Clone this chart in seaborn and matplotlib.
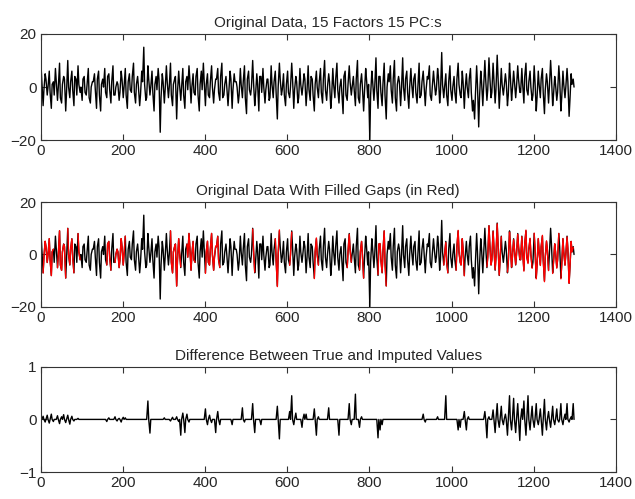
import numpy as np
import pandas as pd
import matplotlib
matplotlib.use('Agg')
import matplotlib.pyplot as plt
import seaborn as sns

# sample indices: main samples every 5th, plus in-between samples
x_main = np.arange(1, 1300, 5)
x_mid = np.arange(3, 1300, 5)

# original data values at the main samples
orig_main = [
    8, -7, 5, -3, 6, -8, 2, 7, -5, 9, -6, 4, -9, 10, -4, 6, -7, 3, 8, -2,
    -5, 4, -3, 7, -6, 2, 5, -8, 6, -9, 3, 7, -4, 5, -6, 8, -3, 2, -5, 6,
    -4, 7, -8, 5, -2, 9, -6, 4, -7, 6, 15, -5, 8, -3, 6, -9, 4, 7, -17, 5,
    -6, 8, -4, 9, -7, 3, -12, 6, -5, 7, -8, 4, 8, -6, 5, -3, 7, -9, 6, 9,
    -7, 5, -4, 8, -6, 3, 7, -5, 9, -3, 4, -7, 6, -8, 5, 2, -6, 7, -4, 8,
    -10, 6, -3, 10, -7, 5, -9, 4, 7, -6, 3, -5, 8, -4, 6, -12, 9, -3, 5, -7,
    6, -4, 9, -8, 4, -6, 7, -3, 5, -7, 8, -5, 3, -9, 6, -4, 7, -6, 10, -5,
    5, -8, 7, -4, 9, -6, 3, -10, 6, -5, 8, -3, 4, -7, 10, -6, 5, -9, 7, -4,
    -20, 6, -5, 11, -8, 4, -7, 9, -12, 5, 8, -6, 10, -9, 4, -7, 11, -5, 6, -8,
    7, -4, 5, -6, 9, -3, 6, -7, 4, 8, -5, 6, -3, 7, -6, 13, -4, 5, -7, 8,
    -5, 4, -6, 9, -3, 6, -8, 5, -4, 7, -9, -12, 8, -15, 6, -7, 10, -5, 11, -4,
    9, -6, 12, -8, 7, -3, 5, -7, 9, -5, 6, -4, 8, -2, 7, -6, 9, -3, 6, -5,
    8, -9, 6, -4, 7, -10, 5, -6, 10, -7, 4, -5, 8, -9, 6, -4, 7, -11, 5, 3,
]

# original data values at the in-between samples (the dense core of the trace)
orig_mid = [
    2, -1, 3, 0, -2, 1, -3, 2, 0, -4, 1, 3, -2, 0, 2, -1, 4, -3, 1, 0,
    3, -2, 1, -4, 0, 2, -1, 3, -3, 1, 0, -2, 4, -1, 2, -3, 0, 1, -2, 3,
    0, -3, 2, -1, 4, -2, 1, 0, -3, 2, 1, -4, 3, 0, -2, 1, -1, 3, -4, 2,
    -1, 2, 0, -3, 1, 4, -2, 1, 0, -3, 2, -1, 3, 0, -2, 4, -3, 1, -1, 2,
    1, -3, 2, 0, -1, 3, -2, 4, -4, 1, 0, -2, 3, -1, 2, 0, -3, 1, 2, -4,
    3, -1, 0, 2, -3, 1, 4, -2, 0, -1, 3, -4, 1, 2, -2, 0, 3, -1, -3, 1,
    -2, 0, 3, -1, 2, -4, 1, 0, 3, -2, -1, 4, -3, 1, 0, 2, -2, 3, -1, 0,
    2, -4, 1, 3, -1, 0, -2, 4, -3, 1, 2, 0, -1, 3, -4, 1, 0, -2, 3, 1,
    -3, 2, 0, -1, 4, -2, 1, -3, 0, 2, -1, 3, -4, 1, 2, -1, 0, 3, -2, 0,
    1, 3, -2, 0, -4, 2, 1, -1, 3, -3, 0, 2, -1, 4, -2, 1, 0, -3, 2, -1,
    0, -2, 3, 1, -4, 2, -1, 0, 3, -2, -5, -3, 1, -4, 2, 0, 3, -1, 4, -2,
    3, -1, 4, -2, 1, 0, 2, -3, 4, -1, 2, 0, 3, -2, 1, 4, -1, 2, 0, -3,
    2, -4, 1, 3, -2, -1, 2, 0, 4, -3, 1, -2, 3, -4, 1, 0, 2, -5, 1, 0,
]

# gaps that were filled (start / end sample)
gap_start = [6, 41, 66, 91, 161, 181, 316, 356, 401, 516, 571, 606, 666, 746,
             776, 821, 981, 1011, 1086, 1136, 1201, 1246, 1266]
gap_end = [31, 61, 81, 96, 171, 206, 341, 376, 436, 521, 581, 611, 676, 756,
           786, 841, 991, 1031, 1121, 1196, 1236, 1261, 1296]

# difference true - imputed, only the non-zero samples
diff_x = [6, 11, 16, 21, 26, 31, 41, 46, 51, 56, 61, 66, 71, 76, 81, 91,
          161, 166, 181, 186, 191, 196, 201, 206, 261, 266,
          301, 316, 321, 331, 336, 341, 346, 351, 356, 361,
          401, 406, 411, 416, 426, 431, 436, 466, 491, 496, 516, 521, 536,
          576, 581, 606, 611, 616, 621, 636, 641, 646,
          666, 671, 676, 701, 726, 751, 756, 766, 776, 781, 821, 826, 831,
          931, 936, 966, 986, 1016, 1021, 1031, 1036, 1041,
          1081, 1086, 1091, 1101, 1106, 1111, 1116, 1121, 1126, 1131, 1136,
          1141, 1146, 1151, 1156, 1161, 1166, 1171, 1176, 1181, 1186, 1191,
          1196, 1201, 1206, 1211, 1216, 1221, 1226, 1231, 1236, 1241, 1246,
          1251, 1256, 1261, 1266, 1271, 1276, 1281, 1286, 1291, 1296]
diff_v = [0.06, -0.05, 0.08, -0.07, 0.1, -0.04, 0.07, -0.08, 0.05, 0.09, -0.06, 0.08, -0.09, 0.06, -0.03, 0.02,
          -0.04, 0.03, 0.05, -0.03, 0.02, -0.05, 0.04, 0.03, 0.35, -0.26,
          0.03, -0.03, 0.04, 0.05, -0.04, -0.3, 0.12, -0.25, 0.1, -0.05,
          0.2, -0.1, 0.08, -0.06, -0.25, 0.15, -0.1, -0.1, 0.22, -0.05, 0.3, -0.25, -0.1,
          0.25, -0.37, 0.15, 0.45, -0.1, 0.12, -0.15, 0.1, 0.1,
          0.2, -0.3, 0.05, 0.22, -0.3, 0.3, -0.1, 0.48, -0.15, 0.05, -0.35, -0.2, -0.1,
          0.1, -0.05, 0.05, 0.45, -0.2, -0.15, 0.15, -0.2, 0.05,
          0.15, -0.35, 0.05, 0.18, -0.25, 0.3, -0.15, 0.25, -0.1, 0.1, -0.3,
          0.45, -0.2, 0.4, -0.25, 0.3, -0.4, 0.2, 0.35, -0.3, 0.45, -0.2,
          0.25, -0.15, 0.3, -0.1, 0.2, -0.3, 0.38, -0.2, 0.15, -0.15, 0.25,
          -0.1, 0.2, -0.05, 0.3, -0.1, 0.1, 0.3, -0.05, 0.05, 0.3]

titles = ['Original Data, 15 Factors 15 PC:s',
          'Original Data With Filled Gaps (in Red)',
          'Difference Between True and Imputed Values']

# build the table, main and in-between samples merged
diff_map = dict(zip(diff_x, diff_v))
df = pd.concat([
    pd.DataFrame({'x': x_main, 'orig': orig_main,
                  'diff': [diff_map.get(int(v), 0.0) for v in x_main]}),
    pd.DataFrame({'x': x_mid, 'orig': orig_mid, 'diff': 0.0}),
]).sort_values('x').reset_index(drop=True)
df['imputed'] = df['orig'] - df['diff']

seg = np.full(len(df), -1)
for i, (s, e) in enumerate(zip(gap_start, gap_end)):
    seg[(df['x'] >= s) & (df['x'] <= e)] = i
df['seg'] = seg
df_red = df[df['seg'] >= 0]

sns.set_style('ticks')
plt.rcParams['font.family'] = ['Liberation Sans', 'DejaVu Sans']
plt.rcParams['xtick.direction'] = 'in'
plt.rcParams['ytick.direction'] = 'in'
plt.rcParams['xtick.top'] = True
plt.rcParams['ytick.right'] = True
plt.rcParams['xtick.major.size'] = 4
plt.rcParams['ytick.major.size'] = 4
plt.rcParams['axes.linewidth'] = 0.8

fig = plt.figure(figsize=(6.35, 4.99), dpi=100)
left, width = 0.064, 0.906
ax1 = fig.add_axes([left, 0.719, width, 0.213])
ax2 = fig.add_axes([left, 0.385, width, 0.210])
ax3 = fig.add_axes([left, 0.054, width, 0.211])

lw = 1.0
sns.lineplot(data=df, x='x', y='orig', ax=ax1, color='black', lw=lw, estimator=None)
sns.lineplot(data=df, x='x', y='orig', ax=ax2, color='black', lw=lw, estimator=None)
sns.lineplot(data=df_red, x='x', y='imputed', units='seg', ax=ax2, color='red',
             lw=lw, estimator=None)
sns.lineplot(data=df, x='x', y='diff', ax=ax3, color='black', lw=lw, estimator=None)

for ax, t in zip([ax1, ax2, ax3], titles):
    ax.set_xlim(0, 1400)
    ax.set_xticks(range(0, 1401, 200))
    ax.set_xlabel('')
    ax.set_ylabel('')
    ax.set_title(t, fontsize=11, pad=5)
    ax.tick_params(labelsize=11, pad=3, color='#333333')
    for sp in ax.spines.values():
        sp.set_visible(True)
        sp.set_color('#333333')

ax1.set_ylim(-20, 20)
ax1.set_yticks([-20, 0, 20])
ax2.set_ylim(-20, 20)
ax2.set_yticks([-20, 0, 20])
ax3.set_ylim(-1, 1)
ax3.set_yticks([-1, 0, 1])

fig.savefig('out.png', dpi=100)
